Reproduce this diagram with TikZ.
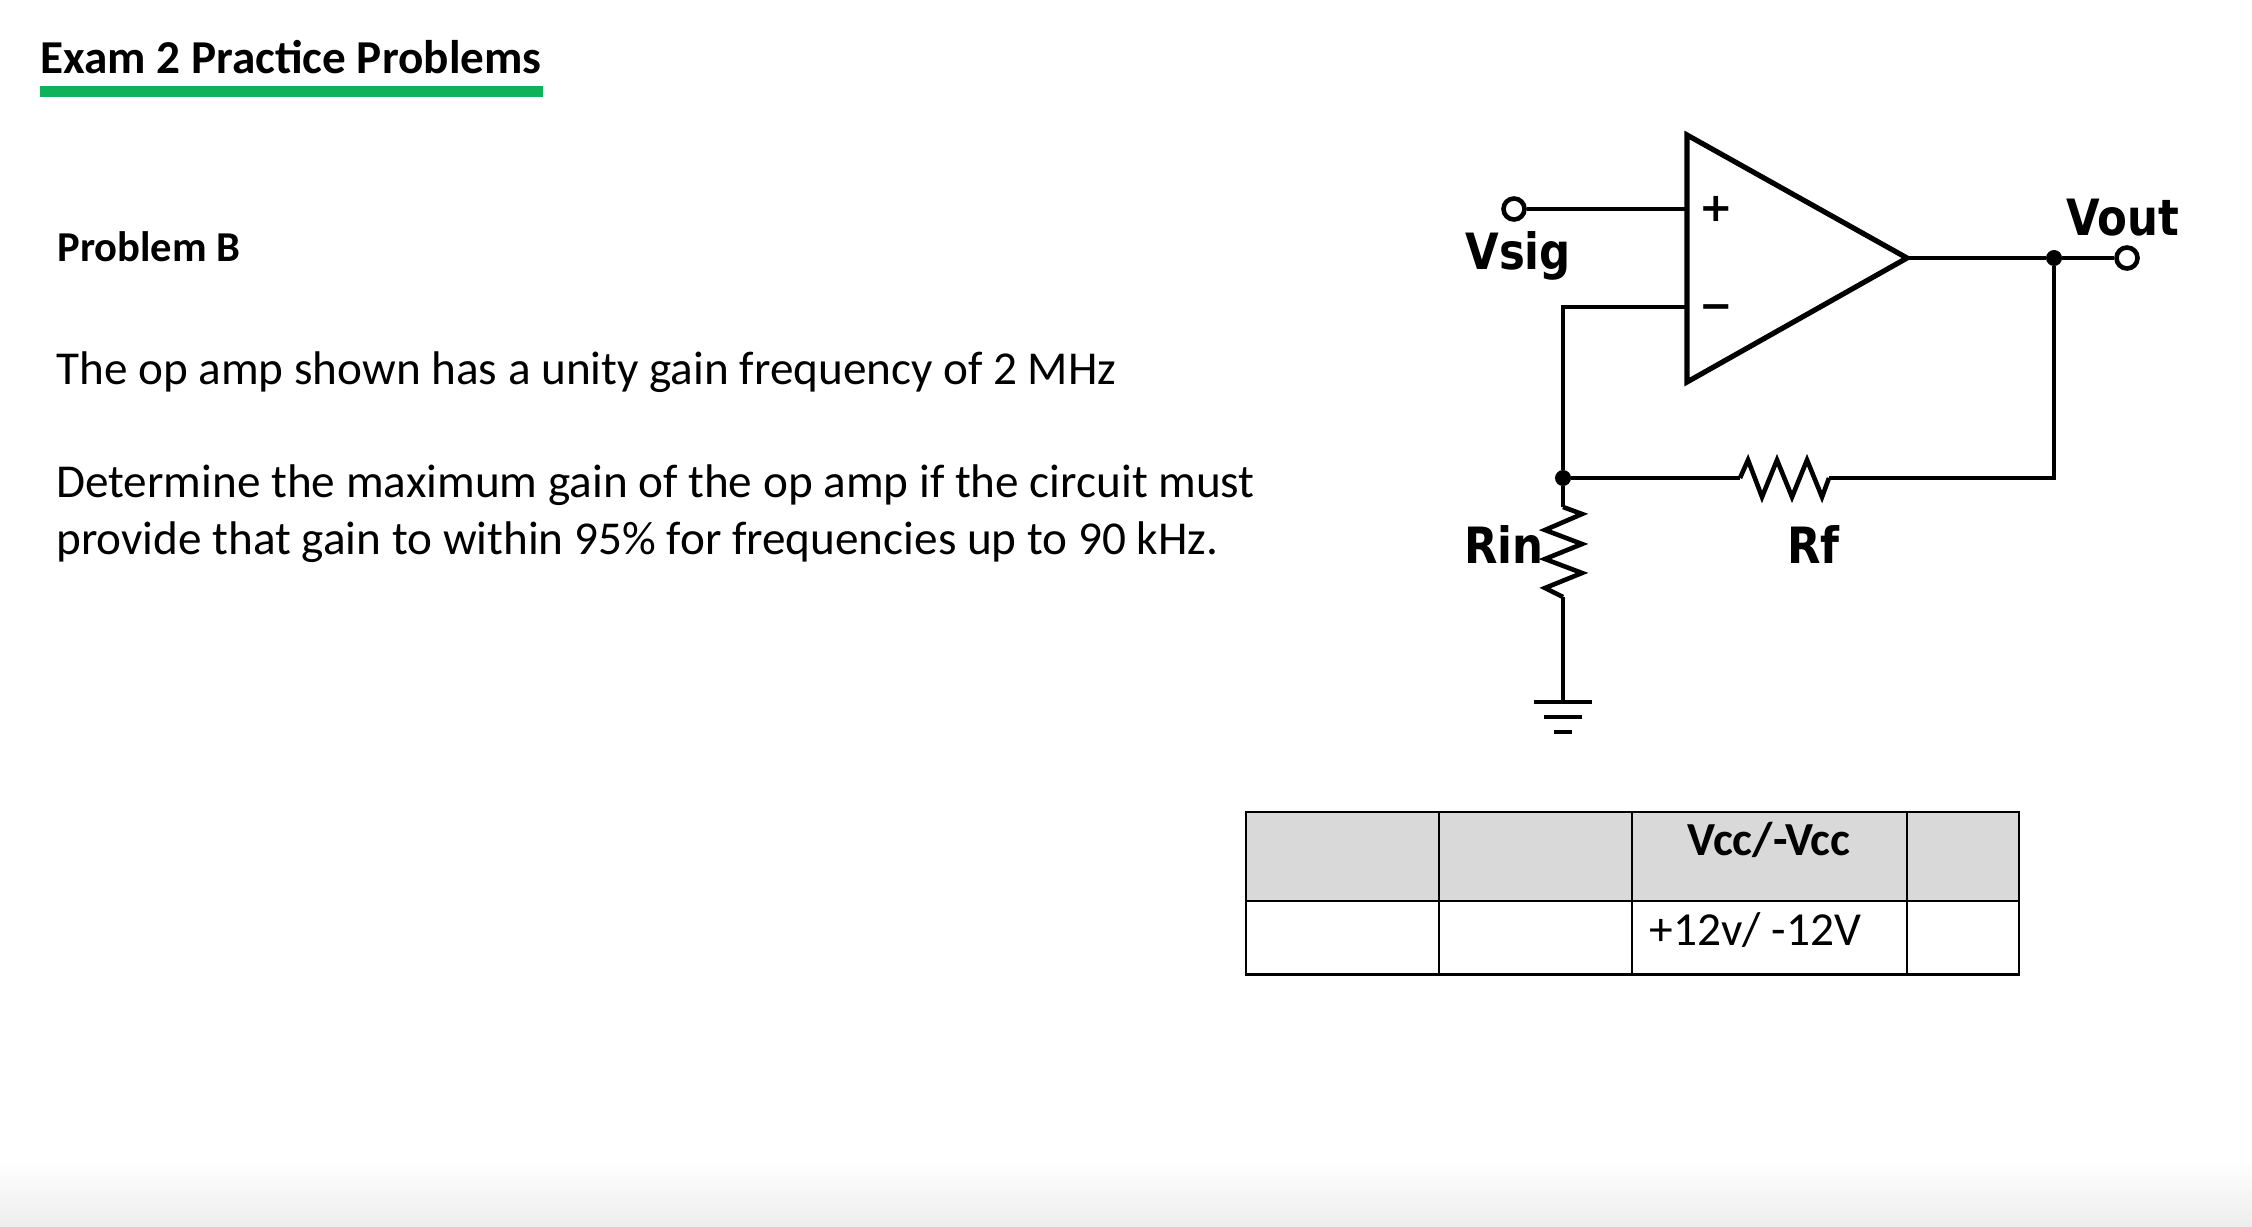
\documentclass[tikz,border=0pt]{standalone}
\usepackage{fontspec}
\setmainfont{Carlito}
\newfontfamily\circfont[FakeStretch=0.87]{DejaVu Sans}
\newfontfamily\signfont{DejaVu Sans}
\usetikzlibrary{positioning}
\definecolor{barGreen}{HTML}{0DB25B}
\definecolor{headGray}{HTML}{D9D9D9}

\begin{document}
\begin{tikzpicture}[
	x=0.5pt, y=-0.5pt,
	body/.style={anchor=base west, inner sep=0pt, font=\fontsize{23.6}{28}\selectfont},
	heading/.style={anchor=base west, inner sep=0pt, font=\fontsize{23.6}{28}\selectfont\bfseries},
	subheading/.style={anchor=base west, inner sep=0pt, font=\fontsize{21.3}{26}\selectfont\bfseries},
	circlabel/.style={anchor=base west, inner sep=0pt, font=\fontsize{25}{30}\circfont\bfseries},
	sign/.style={anchor=base, inner sep=0pt, font=\fontsize{20}{24}\signfont\bfseries},
	wire/.style={line width=2.3pt},
	amp/.style={line width=2.6pt, line join=miter},
	pin/.style={circle, draw, line width=2.3pt, fill=white, inner sep=0pt, minimum size=10.5pt},
	dot/.style={circle, fill=black, inner sep=0pt, minimum size=8pt},
	headcell/.style={draw, fill=headGray, line width=1.3pt, anchor=north west, inner sep=0pt, outer sep=0pt, minimum height=44.5pt},
	bodycell/.style={draw, line width=1.3pt, anchor=north west, inner sep=0pt, outer sep=0pt, minimum height=36.8pt},
]
	\useasboundingbox (0,0) rectangle (2252,1226);

	% fade at the bottom of the slide
	\shade[top color=white, bottom color=black!7, draw=none] (0,1160) rectangle (2252,1226);

	% page text
	\node[heading] (title) at (40,73) {Exam 2 Practice Problems};
	\fill[barGreen] (40,86) rectangle (543,97);
	\node[subheading] (probB) at (57,261) {Problem B};
	\node[body] (line1) at (56,384) {The op amp shown has a unity gain frequency of 2 MHz};
	\node[body] (line2) at (56,497) {Determine the maximum gain of the op amp if the circuit must};
	\node[body] (line3) at (56,554) {provide that gain to within 95\% for frequencies up to 90 kHz.};

	% op amp
	\coordinate (ampTop) at (1687,135);
	\coordinate (ampBot) at (1687,382);
	\coordinate (ampOut) at (1907,258);
	\coordinate (plus) at (1687,209);
	\coordinate (minus) at (1687,307);
	\draw[amp] (ampTop) -- (ampOut) -- (ampBot) -- cycle;
	\node[sign] (plusSign) at (1716,221.5) {+};
	\node[sign] (minusSign) at (1716,319.5) {−};

	% pins and junctions
	\node[pin] (vsigPin) at (1514,209) {};
	\node[pin] (voutPin) at (2127,258) {};
	\node[dot] (outDot) at (2054,258) {};
	\node[dot] (fbDot) at (1563,478) {};
	\coordinate (minusCorner) at (1563,307);
	\coordinate (fbCorner) at (2054,478);
	\coordinate (rfLeft) at (1740,478);
	\coordinate (rfRight) at (1829,478);
	\coordinate (rinTop) at (1563,507);
	\coordinate (rinBot) at (1563,597);
	\coordinate (gnd) at (1563,702);

	% wires
	\draw[wire] (vsigPin) -- (plus);
	\draw[wire] (ampOut) -- (outDot) -- (voutPin);
	\draw[wire] (minus) -- (minusCorner) -- (fbDot);
	\draw[wire] (outDot) -- (fbCorner) -- (rfRight);
	\draw[wire] (fbDot) -- (rfLeft);
	\draw[wire] (fbDot) -- (rinTop);
	\draw[wire] (rinBot) -- (gnd);

	% resistors
	\draw[wire] (rfLeft) -- ++(8,-18) -- ++(14,37) -- ++(15,-37) -- ++(15,37) -- ++(15,-37) -- ++(15,37) -- (rfRight);
	\draw[wire] (rinTop) -- ++(19,7) -- ++(-37,16) -- ++(37,14) -- ++(-37,15) -- ++(37,14) -- ++(-37,15) -- (rinBot);

	% ground
	\draw[wire] (gnd) ++(-29,0) -- ++(58,0);
	\draw[wire] (gnd) ++(-19,15) -- ++(38,0);
	\draw[wire] (gnd) ++(-9,30) -- ++(18,0);

	% circuit labels
	\node[circlabel] (vsigLabel) at (1465,269) {Vsig};
	\node[circlabel] (voutLabel) at (2066,235) {Vout};
	\node[circlabel] (rinLabel) at (1464,563) {Rin};
	\node[circlabel] (rfLabel) at (1787,563) {Rf};

	% table
	\node[headcell, minimum width=96.5pt] (h1) at (1246,812) {};
	\node[headcell, minimum width=96.5pt, right=0pt of h1] (h2) {};
	\node[headcell, minimum width=137.5pt, right=0pt of h2] (h3) {};
	\node[headcell, minimum width=56pt, right=0pt of h3] (h4) {};
	\node[bodycell, minimum width=96.5pt, below=0pt of h1] (b1) {};
	\node[bodycell, minimum width=96.5pt, below=0pt of h2] (b2) {};
	\node[bodycell, minimum width=137.5pt, below=0pt of h3] (b3) {};
	\node[bodycell, minimum width=56pt, below=0pt of h4] (b4) {};
	\node[anchor=base, inner sep=0pt, font=\fontsize{23.7}{28}\selectfont\bfseries] (vccHead) at (1769,855) {Vcc/-Vcc};
	\node[anchor=base west, inner sep=0pt, font=\fontsize{23.7}{28}\selectfont] (vccVal) at (1649,945) {+12v/ -12V};
\end{tikzpicture}
\end{document}
